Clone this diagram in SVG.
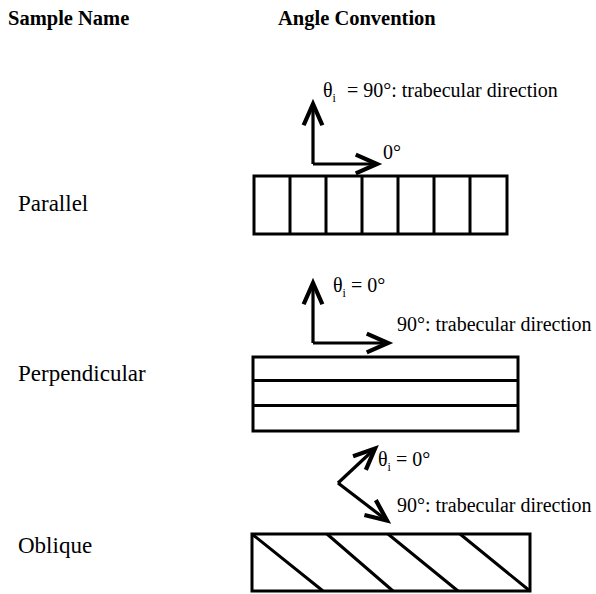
<svg xmlns="http://www.w3.org/2000/svg" width="596" height="594" viewBox="0 0 596 594">
<style>
  text { font-family: "Liberation Serif", "DejaVu Serif", serif; fill: #000; }
  .title { font-weight: bold; font-size: 20.5px; }
  .label { font-size: 23px; }
  .note { font-size: 20px; }
  .sub { font-size: 12px; }
  .box { fill: #fff; stroke: #000; stroke-width: 3; }
  .ln { fill: none; stroke: #000; stroke-width: 3; }
  .arrow { fill: none; stroke: #000; stroke-width: 3.2; marker-end: url(#chev); }
</style>
<defs>
  <marker id="chev" markerUnits="userSpaceOnUse" markerWidth="30" markerHeight="30" refX="0" refY="0" viewBox="-20 -12 24 24" orient="auto" overflow="visible">
    <path d="M-17,-7.5 L0,0 L-17,7.5" fill="none" stroke="#000" stroke-width="3.4" stroke-linejoin="miter"/>
  </marker>
</defs>
<rect width="596" height="594" fill="#fff"/>

<g id="headers">
  <text class="title" x="8" y="25">Sample Name</text>
  <text class="title" x="278" y="25">Angle Convention</text>
</g>

<g id="parallel">
  <text class="label" x="18" y="211">Parallel</text>
  <rect class="box" x="254" y="176" width="253" height="58"/>
  <path class="ln" d="M290,176V234M326,176V234M362,176V234M398,176V234M434,176V234M470,176V234"/>
  <text class="note" x="323" y="97">θ<tspan class="sub" dy="5">i</tspan><tspan dy="-5" dx="6"> = 90°: trabecular direction</tspan></text>
  <text class="note" x="383" y="159">0°</text>
</g>

<g id="perpendicular">
  <text class="label" x="18" y="381">Perpendicular</text>
  <rect class="box" x="253" y="357" width="265" height="74"/>
  <path class="ln" d="M253,380.5H518M253,405.5H518"/>
  <text class="note" x="333" y="292">θ<tspan class="sub" dy="5">i</tspan><tspan dy="-5"> = 0°</tspan></text>
  <text class="note" x="397" y="331">90°: trabecular direction</text>
</g>

<g id="oblique">
  <text class="label" x="18" y="553">Oblique</text>
  <rect class="box" x="252" y="534" width="278" height="57"/>
  <path class="ln" d="M252,534L323,591M327,534L393,591M388,534L458,591M460,534L530,591"/>
  <text class="note" x="378" y="466">θ<tspan class="sub" dy="5">i</tspan><tspan dy="-5"> = 0°</tspan></text>
  <text class="note" x="397" y="512">90°: trabecular direction</text>
</g>

<g id="connectors">
  <path class="arrow" d="M313,164V104"/>
  <path class="arrow" d="M313,164H377"/>
  <path class="arrow" d="M313,343V283"/>
  <path class="arrow" d="M313,343H388"/>
  <path class="arrow" d="M338,483L375,448.5"/>
  <path class="arrow" d="M338,483L387,520.5"/>
</g>
</svg>
